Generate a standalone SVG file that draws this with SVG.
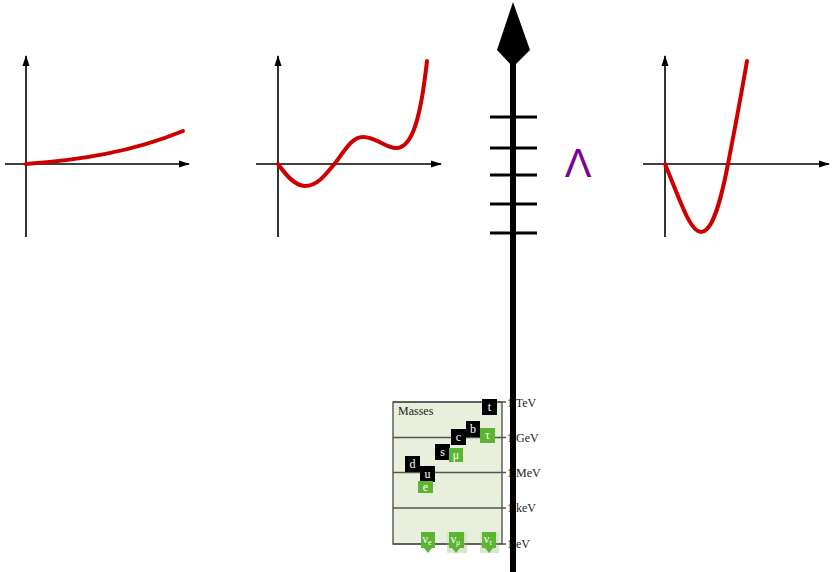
<svg xmlns="http://www.w3.org/2000/svg" width="833" height="572" viewBox="0 0 833 572">
<style>
.ax{stroke:#000;stroke-width:1.6;fill:none}
.curve{stroke:#cc0000;stroke-width:4;fill:none;stroke-linecap:round}
.tick{stroke:#000;stroke-width:3}
.grid{stroke:#555;stroke-width:1.4;fill:none}
.q{fill:#000}
.l{fill:#5bb531}
.pt{font-family:"Liberation Serif",serif;font-size:12px;fill:#fff;text-anchor:middle}
.lab{font-family:"Liberation Serif",serif;font-size:12px;fill:#222}
</style>
<defs>
<marker id="ah" markerUnits="userSpaceOnUse" markerWidth="12" markerHeight="8" refX="10" refY="4" orient="auto">
<path d="M0,0.5 L11,4 L0,7.5 Z" fill="#000"/>
</marker>
</defs>
<g id="connectors">
<line class="ax" x1="5" y1="164" x2="189" y2="164" marker-end="url(#ah)"/>
<line class="ax" x1="26" y1="237" x2="26" y2="56" marker-end="url(#ah)"/>
<line class="ax" x1="256" y1="164" x2="441" y2="164" marker-end="url(#ah)"/>
<line class="ax" x1="278" y1="237" x2="278" y2="56" marker-end="url(#ah)"/>
<line class="ax" x1="643" y1="164" x2="829" y2="164" marker-end="url(#ah)"/>
<line class="ax" x1="665" y1="237" x2="665" y2="56" marker-end="url(#ah)"/>
</g>
<g id="graph1">
<path class="curve" d="M26,164 C80,160 132,152 183,131"/>
</g>
<g id="graph2">
<path class="curve" d="M278,164 C288,178 296,186 305,186 C318,186 327,173 336,162 C345,150 352,137 363,137 C377,137 386,149 397,148 C413,147 421,115 427,61"/>
</g>
<g id="graph3">
<path class="curve" d="M665,164 C680,200 690,232 701,232 C712,232 720,205 728,164 C735,128 742,90 747,61"/>
</g>
<g id="lambda">
<text x="578" y="177" font-family="Liberation Sans, sans-serif" font-size="40" fill="#800099" text-anchor="middle">Λ</text>
</g>
<g id="masses">
<rect x="393" y="402" width="109" height="142" fill="#e8efdc" stroke="#555" stroke-width="1.4"/>
<rect x="447" y="532" width="20" height="21" fill="#d9e6cc"/>
<rect x="480" y="532" width="19" height="21" fill="#d9e6cc"/>
<line class="grid" x1="393" y1="402" x2="506" y2="402"/>
<line class="grid" x1="393" y1="437.5" x2="506" y2="437.5"/>
<line class="grid" x1="393" y1="472.5" x2="506" y2="472.5"/>
<line class="grid" x1="393" y1="508" x2="506" y2="508"/>
<line class="grid" x1="393" y1="544" x2="506" y2="544"/>
<text class="lab" x="398" y="415" fill="#333">Masses</text>
<text class="lab" x="507" y="407">1 TeV</text>
<text class="lab" x="507" y="442">1 GeV</text>
<text class="lab" x="507" y="477">1 MeV</text>
<text class="lab" x="507" y="512">1 keV</text>
<text class="lab" x="507" y="548">1 eV</text>
<g id="p-t"><rect class="q" x="482" y="399" width="15" height="16"/><text class="pt" x="489.5" y="411">t</text></g>
<g id="p-tau"><rect class="l" x="480" y="428" width="15" height="15"/><text class="pt" x="487.5" y="439">τ</text></g>
<g id="p-b"><rect class="q" x="466" y="421" width="14" height="16"/><text class="pt" x="473" y="433">b</text></g>
<g id="p-c"><rect class="q" x="451" y="429" width="15" height="16"/><text class="pt" x="458.5" y="441">c</text></g>
<g id="p-s"><rect class="q" x="435" y="444" width="15" height="16"/><text class="pt" x="442.5" y="456">s</text></g>
<g id="p-mu"><rect class="l" x="449" y="448" width="14" height="14"/><text class="pt" x="456" y="459">μ</text></g>
<g id="p-d"><rect class="q" x="405" y="456" width="15" height="16"/><text class="pt" x="412.5" y="468">d</text></g>
<g id="p-u"><rect class="q" x="420" y="466" width="15" height="16"/><text class="pt" x="427.5" y="478">u</text></g>
<g id="p-e"><rect class="l" x="418" y="481" width="15" height="12"/><text class="pt" x="425.5" y="491">e</text></g>
<g id="p-nue"><rect class="l" x="421" y="532" width="14" height="16"/><path class="l" d="M424,548 L432,548 L428,553 Z"/><text class="pt" x="427" y="543">ν<tspan font-size="8" dy="2">e</tspan></text></g>
<g id="p-numu"><rect class="l" x="449" y="532" width="15" height="16"/><path class="l" d="M452,548 L460,548 L456,553 Z"/><text class="pt" x="455.5" y="543">ν<tspan font-size="8" dy="2">μ</tspan></text></g>
<g id="p-nutau"><rect class="l" x="482" y="532" width="14" height="16"/><path class="l" d="M485,548 L493,548 L489,553 Z"/><text class="pt" x="488" y="543">ν<tspan font-size="8" dy="2">τ</tspan></text></g>
</g>
<g id="scale-axis">
<line x1="513" y1="60" x2="513" y2="572" stroke="#000" stroke-width="6"/>
<path d="M513,2 L530,50 L513,67 L497,50 Z" fill="#000"/>
<line class="tick" x1="490" y1="117" x2="537" y2="117"/>
<line class="tick" x1="490" y1="148" x2="537" y2="148"/>
<line class="tick" x1="490" y1="175" x2="537" y2="175"/>
<line class="tick" x1="490" y1="204" x2="537" y2="204"/>
<line class="tick" x1="490" y1="233" x2="537" y2="233"/>
</g>
</svg>
